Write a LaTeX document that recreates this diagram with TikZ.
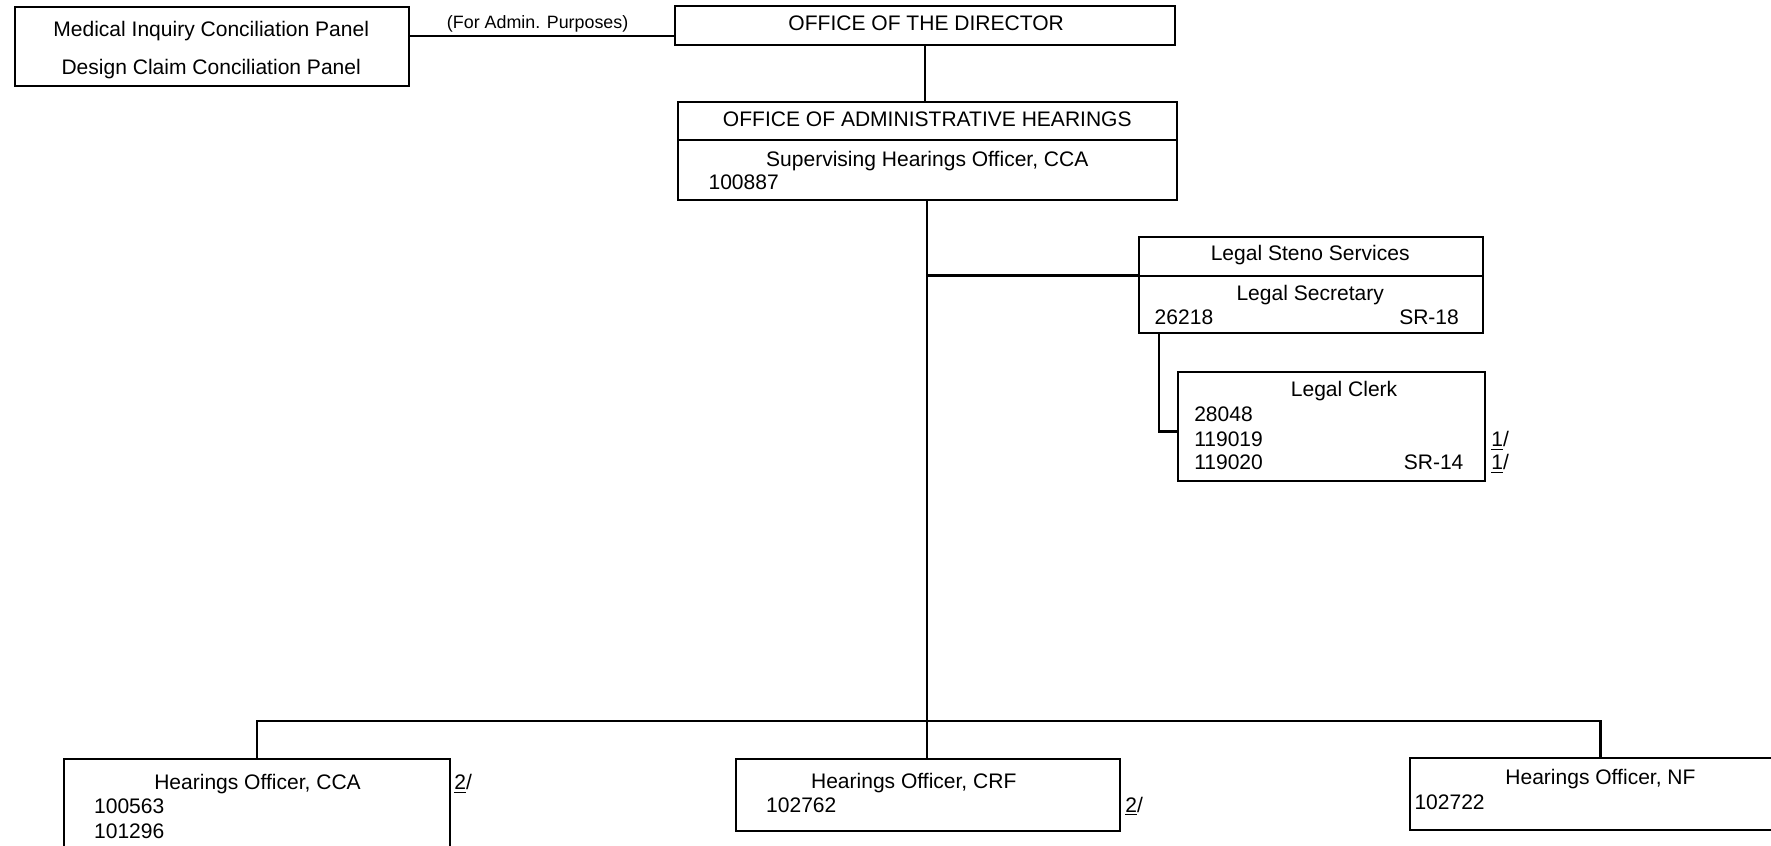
\documentclass[tikz,border=0pt]{standalone}
\usepackage{fontspec}
\setmainfont{Liberation Sans}

\tikzset{
	box/.style={draw, line width=1pt, inner sep=0pt, outer sep=0pt},
	txt/.style={inner sep=0pt, font=\fontsize{10.6}{12}\selectfont},
	note/.style={inner sep=0pt, font=\fontsize{9}{10}\selectfont},
	link/.style={line width=1.1pt},
}

\newcommand{\orgbox}[5]{
	\pgfmathsetmacro{\OBxa}{#2}
	\pgfmathsetmacro{\OBxb}{#4}
	\pgfmathsetmacro{\OBya}{#3}
	\pgfmathsetmacro{\OByb}{#5}
	\pgfmathsetmacro{\OBw}{0.02 * (\OBxb - \OBxa)}
	\pgfmathsetmacro{\OBh}{0.02 * (\OByb - \OBya)}
	\node[box, minimum width=\OBw cm, minimum height=\OBh cm] (#1) at ({(\OBxa+\OBxb)/2}, {(\OBya+\OByb)/2}) {};
}

\begin{document}
\begin{tikzpicture}[x=0.02cm, y=-0.02cm]
\useasboundingbox (0,0) rectangle (1568,749);

\orgbox{panels}{13}{6}{362}{76}
\orgbox{dir}{598}{5}{1040}{40}
\orgbox{oahT}{600}{90}{1042}{124}
\orgbox{oahB}{600}{124}{1042}{177}
\orgbox{stenoT}{1008}{210}{1313}{244}
\orgbox{stenoB}{1008}{244}{1313}{295}
\orgbox{clerk}{1043}{329}{1315}{426}
\orgbox{cca}{57}{672}{398}{780}
\orgbox{crf}{652}{672}{992}{736}
\orgbox{nf}{1248}{671}{1586}{735}

% top row
\node[txt, anchor=base] (medtxt) at (187,32) {Medical Inquiry Conciliation Panel};
\node[txt, anchor=base] (destxt) at (187,66) {Design Claim Conciliation Panel};
\node[txt, anchor=base] (dirtxt) at (820,27) {OFFICE OF THE DIRECTOR};
\node[txt, anchor=base] (oahtxt) at (821,112) {OFFICE OF ADMINISTRATIVE HEARINGS};
\node[txt, anchor=base] (shotxt) at (821,147) {Supervising Hearings Officer, CCA};
\node[txt, anchor=base west] (n100887) at (627,168) {100887};

% steno services
\node[txt, anchor=base] (stenotxt) at (1160,231) {Legal Steno Services};
\node[txt, anchor=base] (sectxt) at (1160,266) {Legal Secretary};
\node[txt, anchor=base west] (n26218) at (1022,287) {26218};
\node[txt, anchor=base east] (sr18) at (1292,287) {SR-18};
\node[txt, anchor=base] (clerktxt) at (1190,351) {Legal Clerk};
\node[txt, anchor=base west] (n28048) at (1057,373) {28048};
\node[txt, anchor=base west] (n119019) at (1057,395) {119019};
\node[txt, anchor=base west] (n119020) at (1057,416) {119020};
\node[txt, anchor=base east] (sr14) at (1296,416) {SR-14};
\node[txt, anchor=base west] (fn1a) at (1320,395) {\underline{1}/};
\node[txt, anchor=base west] (fn1b) at (1320,416) {\underline{1}/};

% hearings officers
\node[txt, anchor=base] (ccatxt) at (228,699) {Hearings Officer, CCA};
\node[txt, anchor=base west] (n100563) at (83,720) {100563};
\node[txt, anchor=base west] (n101296) at (83,742) {101296};
\node[txt, anchor=base west] (fn2a) at (402,699) {\underline{2}/};
\node[txt, anchor=base] (crftxt) at (809,698) {Hearings Officer, CRF};
\node[txt, anchor=base west] (n102762) at (678,719) {102762};
\node[txt, anchor=base west] (fn2b) at (996,719) {\underline{2}/};
\node[txt, anchor=base] (nftxt) at (1417,695) {Hearings Officer, NF};
\node[txt, anchor=base west] (n102722) at (1252,717) {102722};

% lines
\draw[link] (panels.east |- 0,32) -- node[note, midway, above=1.5pt, xshift=-0.08cm] (admin) {(For Admin. Purposes)} (dir.west |- 0,32);
\draw[link] (dir.south) -- (dir.south |- oahT.north);
\draw[link] (oahB.south) -- (oahB.south |- crf.north);
\draw[link] (oahB.south |- stenoB.north west) -- (stenoB.north west);
\draw[link] ([xshift=0.36cm]stenoB.south west) |- ([yshift=-0.09cm]clerk.west);
\draw[link] (cca.north) |- (oahB.south |- 0,638) -| (nf.north);
\end{tikzpicture}
\end{document}
